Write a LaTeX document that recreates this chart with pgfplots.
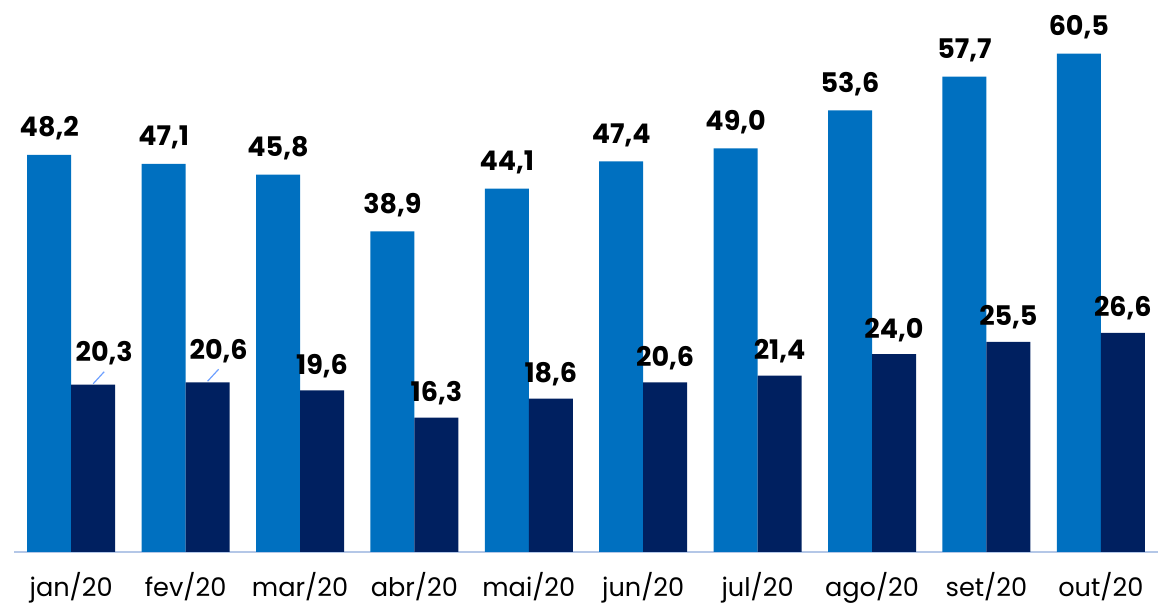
\documentclass[border=0pt]{standalone}
\usepackage{fontspec}
\setmainfont{Poppins}
\usepackage{pgfplots}
\usepackage{pgfplotstable}
\pgfplotsset{compat=1.18}

\definecolor{lightbar}{RGB}{0,112,192}
\definecolor{darkbar}{RGB}{0,32,96}
\definecolor{axisblue}{RGB}{180,199,231}
\definecolor{leader}{RGB}{110,160,255}

\pgfplotstableread{
x lab    a    b    dx  dy
0 jan/20 48.2 20.3 5.5 11.5
1 fev/20 47.1 20.6 5.5 11.5
2 mar/20 45.8 19.6 0   8
3 abr/20 38.9 16.3 0   8
4 mai/20 44.1 18.6 0   8
5 jun/20 47.4 20.6 0   8
6 jul/20 49.0 21.4 0   8
7 ago/20 53.6 24.0 0   8
8 set/20 57.7 25.5 0   8
9 out/20 60.5 26.6 0   8
}\data

\begin{document}
\begin{tikzpicture}
\begin{axis}[
  scale only axis, width=572pt, height=276pt,
  ybar=0pt, bar width=22pt,
  xmin=-0.5, xmax=9.5, ymin=0, ymax=67,
  axis y line=none, axis x line*=bottom,
  x axis line style={-, draw=axisblue, line width=0.7pt},
  xtick={0,...,9}, xticklabels from table={\data}{lab},
  major tick length=0pt,
  xticklabel style={font=\fontsize{12.8}{14}\selectfont, anchor=base, yshift=-22.5pt},
  nodes near coords,
  /pgf/number format/.cd, fixed, fixed zerofill, precision=1, use comma, assume math mode=true,
  /pgfplots/.cd,
  every node near coord/.append style={font=\fontsize{13.5}{15}\selectfont\bfseries, anchor=base, black},
]
\addplot[fill=lightbar, draw=none,
  every node near coord/.append style={yshift=9pt}]
  table[x=x, y=a] {\data};
\addplot[fill=darkbar, draw=none,
  visualization depends on={\thisrow{dx} \as \dx},
  visualization depends on={\thisrow{dy} \as \dy},
  every node near coord/.append style={xshift=\dx pt, yshift=\dy pt}]
  table[x=x, y=b] {\data};
\draw[leader, line width=0.6pt] ([xshift=11pt, yshift=0.5pt]axis cs:0,20.3) -- ++(5.5pt,6pt);
\draw[leader, line width=0.6pt] ([xshift=11pt, yshift=0.5pt]axis cs:1,20.6) -- ++(5.5pt,6pt);
\end{axis}
\pgfresetboundingbox
\path[use as bounding box] ([shift={(-7pt,-25.5pt)}]current axis.south west) rectangle ([shift={(1pt,0pt)}]current axis.north east);
\end{tikzpicture}
\end{document}
